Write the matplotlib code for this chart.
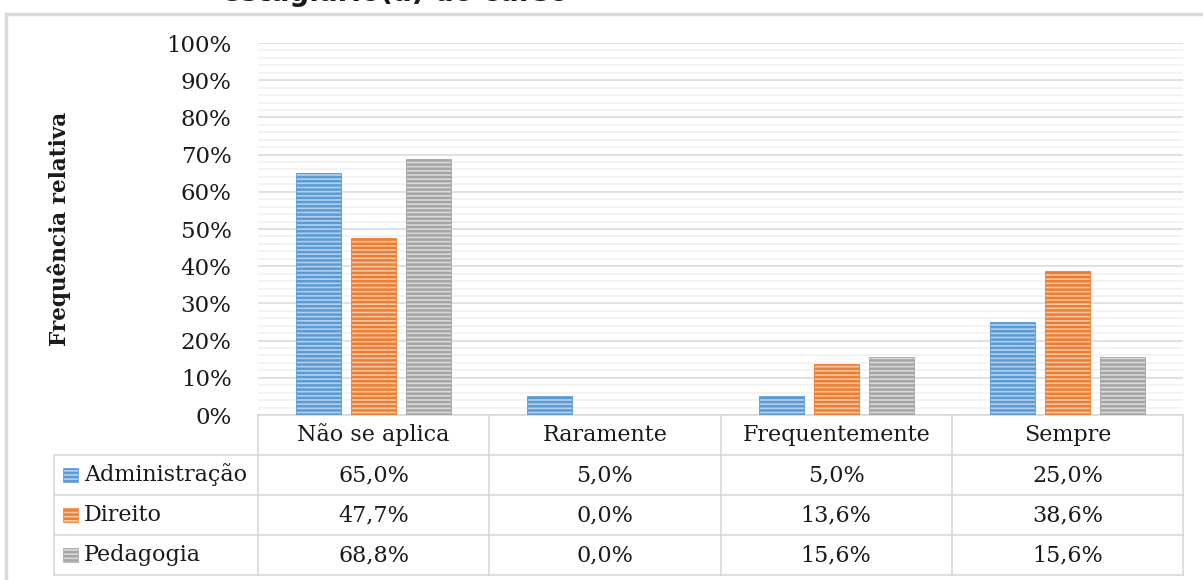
import matplotlib.pyplot as plt
import matplotlib.transforms as mtransforms
from matplotlib.patches import Rectangle
from matplotlib.lines import Line2D
import numpy as np

# data
categories = ['Não se aplica', 'Raramente', 'Frequentemente', 'Sempre']
series = ['Administração', 'Direito', 'Pedagogia']
administracao = [65.0, 5.0, 5.0, 25.0]
direito = [47.7, 0.0, 13.6, 38.6]
pedagogia = [68.8, 0.0, 15.6, 15.6]
yticks = [0, 10, 20, 30, 40, 50, 60, 70, 80, 90, 100]

values = [administracao, direito, pedagogia]
faces = ['#b4d0ec', '#f7c6a3', '#d9d9d9']
edges = ['#5b9bd5', '#ed7d31', '#a5a5a5']

plt.rcParams['font.family'] = 'DejaVu Serif'
plt.rcParams['hatch.linewidth'] = 1.8

W, H = 1203, 580
fig = plt.figure(figsize=(W / 100, H / 100), dpi=100)
ax = fig.add_axes([258 / W, 1 - 415 / H, 925 / W, 372 / H])

x = np.arange(len(categories))
bw = 0.195
step = 0.238
for i, (name, vals) in enumerate(zip(series, values)):
    ax.bar(x + (i - 1) * step, np.array(vals) / 100, width=bw,
           facecolor=faces[i], edgecolor=edges[i], linewidth=0.6,
           hatch='----', zorder=3)

ax.set_xlim(-0.5, len(categories) - 0.5)
ax.set_ylim(0, 1.0)
ax.set_yticks([t / 100 for t in yticks])
ax.set_yticklabels([f'{t}%' for t in yticks], fontsize=16.5, color='#1a1a1a')
ax.set_yticks(np.arange(0, 1.001, 0.02), minor=True)
ax.tick_params(axis='y', which='both', length=0, pad=19)
ax.set_xticks([])
ax.grid(axis='y', which='major', color='#d9d9d9', linewidth=1.1, zorder=0)
ax.grid(axis='y', which='minor', color='#f0f0f0', linewidth=1.1, zorder=0)
for s in ['left', 'right', 'top']:
    ax.spines[s].set_visible(False)
ax.spines['bottom'].set_color('#d9d9d9')
ax.spines['bottom'].set_linewidth(1.2)

# data table under the plot
tr = mtransforms.blended_transform_factory(ax.transData, ax.transAxes)
rh = 40 / 372
lab_left = -1.382
lc = '#d9d9d9'

def hline(x0, x1, y):
    ax.add_line(Line2D([x0, x1], [y, y], transform=tr, color=lc, lw=1.2, clip_on=False))

def vline(xv, y0, y1):
    ax.add_line(Line2D([xv, xv], [y0, y1], transform=tr, color=lc, lw=1.2, clip_on=False))

right = len(categories) - 0.5
for r in range(1, 5):
    hline(lab_left, right, -r * rh)
for b in np.arange(-0.5, len(categories), 1.0):
    vline(b, 0, -4 * rh)
vline(lab_left, -rh, -4 * rh)

for j, c in enumerate(categories):
    ax.text(j, -0.5 * rh, c, transform=tr, ha='center', va='center',
            fontsize=16, color='#1a1a1a')

for i, (name, vals) in enumerate(zip(series, values)):
    yc = -(i + 1.5) * rh
    ax.add_patch(Rectangle((-1.343, yc - 0.02), 0.065, 0.04, transform=tr,
                           facecolor=faces[i], edgecolor=edges[i], linewidth=0.5,
                           hatch='----', clip_on=False))
    ax.text(-1.252, yc, name, transform=tr, ha='left', va='center',
            fontsize=16, color='#1a1a1a')
    for j, v in enumerate(vals):
        ax.text(j, yc, f'{v:.1f}%'.replace('.', ','), transform=tr,
                ha='center', va='center', fontsize=16, color='#1a1a1a')

fig.text(59 / W, 1 - 229 / H, 'Frequência relativa', rotation=90,
         ha='center', va='center', fontsize=15.5, fontweight='bold',
         color='#1a1a1a')

# cut-off title at the top (as in the source) and outer chart frame
fig.text(222 / W, 1 - 1 / H, 'estagiário(a) do curso', ha='left', va='baseline',
         fontsize=20, fontweight='bold', family='DejaVu Sans', color='#1a1a1a')
fig.add_artist(Rectangle((6 / W, -0.1), 1.2, 1 - 14 / H + 0.1, transform=fig.transFigure,
                         fill=False, edgecolor='#d9d9d9', linewidth=2.5))

fig.savefig('out.png', dpi=100)
